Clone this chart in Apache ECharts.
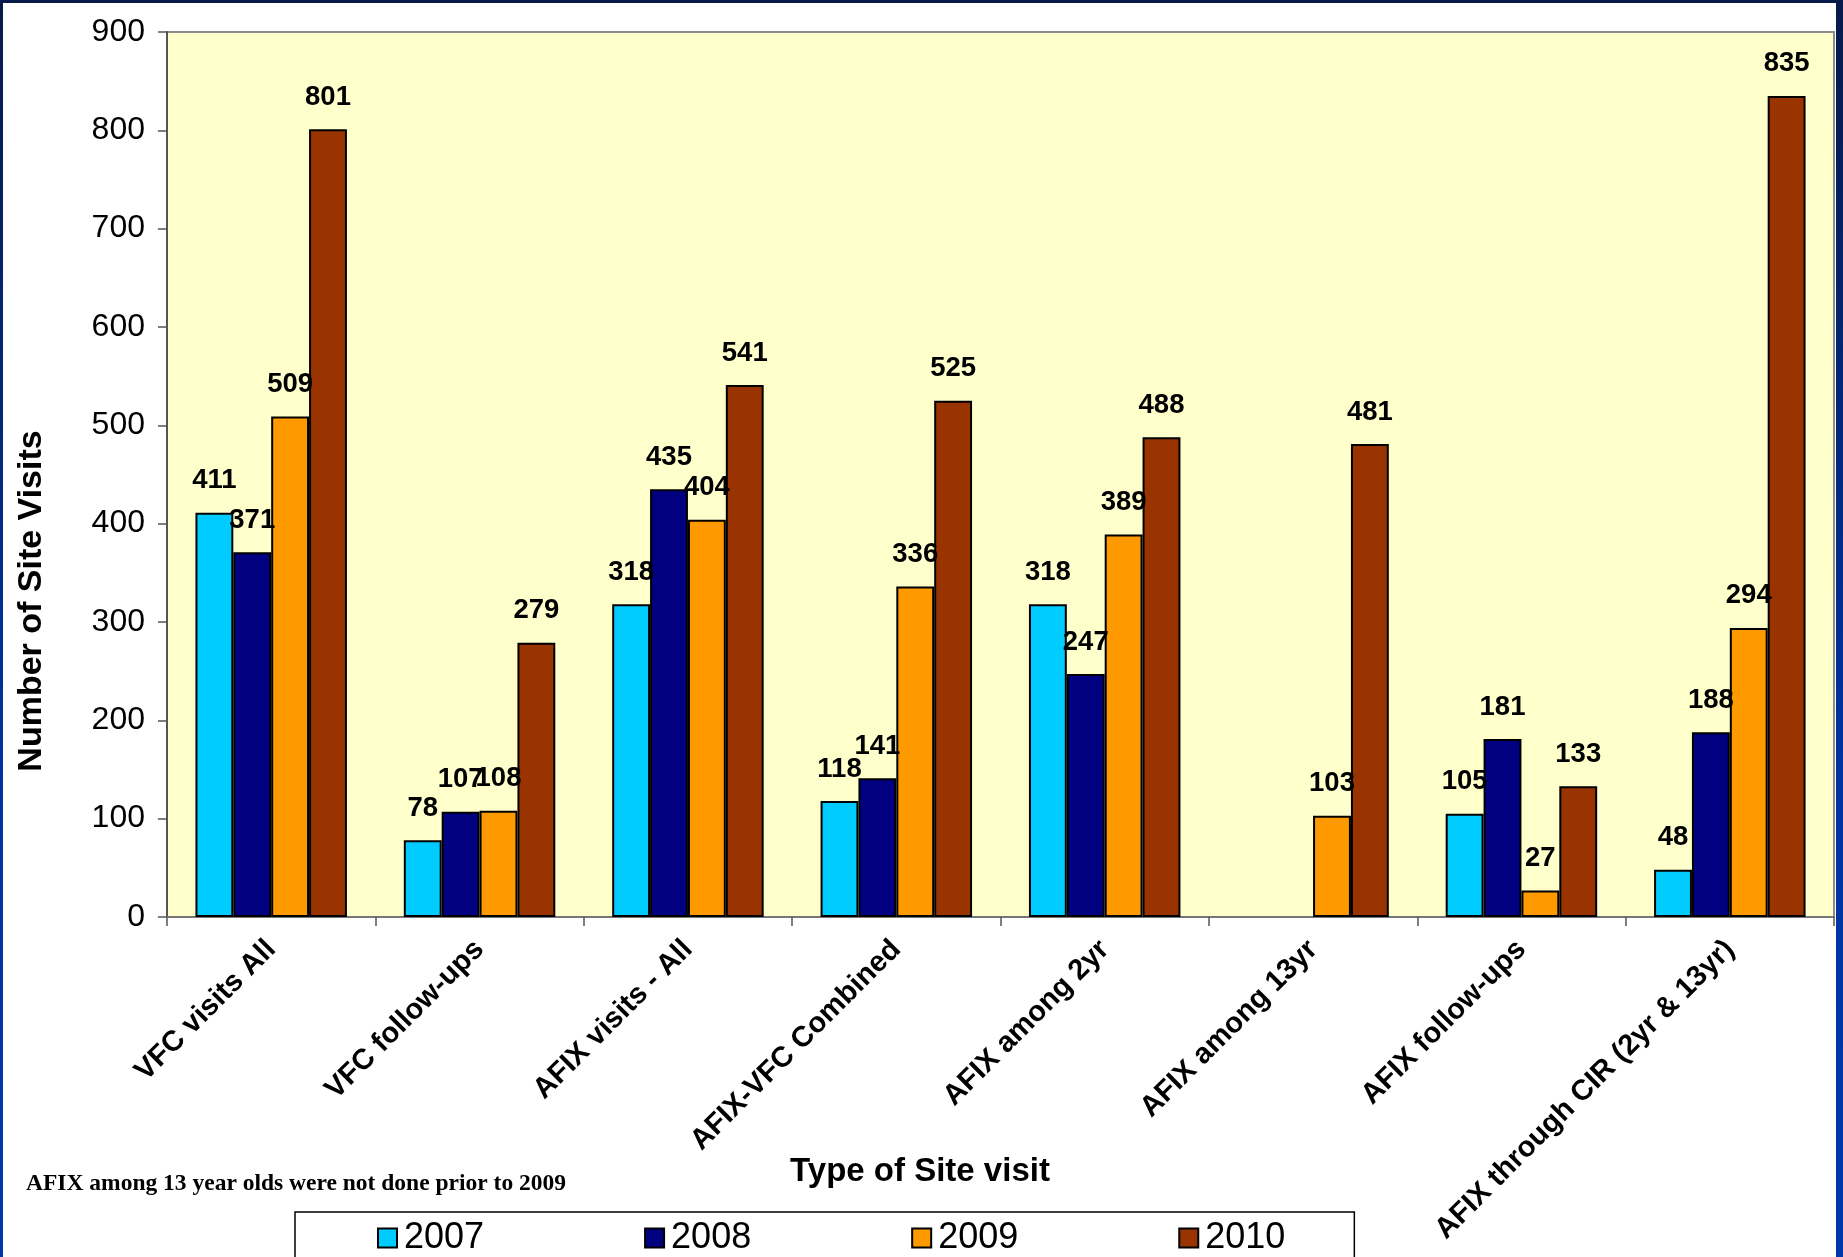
<!DOCTYPE html>
<html>
<head>
<meta charset="utf-8">
<script src="https://cdn.jsdelivr.net/npm/echarts@6/dist/echarts.min.js"></script>
<style>
  html, body { margin: 0; padding: 0; width: 1843px; height: 1257px; overflow: hidden;
    background: linear-gradient(to bottom, #071a4a 0%, #0033a0 60%, #0038aa 100%); }
  #chart { position: absolute; left: 3px; top: 3px; width: 1833px; height: 1254px; background: #ffffff; }
</style>
</head>
<body>
<div id="chart"></div>
<script>
const categories = ['VFC visits All', 'VFC follow-ups', 'AFIX visits - All', 'AFIX-VFC Combined',
  'AFIX among 2yr', 'AFIX among 13yr', 'AFIX follow-ups', 'AFIX through CIR (2yr & 13yr)'];
const years = ['2007', '2008', '2009', '2010'];
const v2007 = [411, 78, 318, 118, 318, null, 105, 48];
const v2008 = [371, 107, 435, 141, 247, null, 181, 188];
const v2009 = [509, 108, 404, 336, 389, 103, 27, 294];
const v2010 = [801, 279, 541, 525, 488, 481, 133, 835];
const yTicks = [0, 100, 200, 300, 400, 500, 600, 700, 800, 900];
const colors = ['#00CCFF', '#000080', '#FF9900', '#993300'];
const seriesValues = [v2007, v2008, v2009, v2010];

const chart = echarts.init(document.getElementById('chart'), null, { renderer: 'canvas' });
const font = 'Liberation Sans, Arial, sans-serif';

chart.setOption({
  animation: false,
  textStyle: { fontFamily: font },
  grid: {
    left: 164, top: 29, width: 1667, height: 885,
    show: true, backgroundColor: '#FFFFCC', borderColor: '#8c8c8c', borderWidth: 2
  },
  legend: {
    data: years,
    left: 292, top: 1209,
    itemWidth: 19, itemHeight: 19, itemGap: 160,
    padding: [8, 69, 40, 82],
    borderColor: '#000', borderWidth: 1.5, backgroundColor: '#fff',
    icon: 'rect',
    textStyle: { fontSize: 36, color: '#000', fontFamily: font, padding: [0, 0, 0, 2] }
  },
  xAxis: {
    type: 'category',
    data: categories,
    axisLine: { lineStyle: { color: '#777', width: 2 } },
    axisTick: { show: true, length: 9, lineStyle: { color: '#555', width: 1.5 } },
    axisLabel: { rotate: 45, margin: 28, fontSize: 29, fontWeight: 'bold', color: '#000', fontFamily: font, interval: 0 }
  },
  yAxis: {
    type: 'value',
    min: 0, max: 900, interval: 100,
    axisLine: { show: true, lineStyle: { color: '#555', width: 2 } },
    axisTick: { show: true, length: 9, lineStyle: { color: '#555', width: 1.5 } },
    splitLine: { show: false },
    axisLabel: { fontSize: 32, color: '#000', margin: 22, fontFamily: font,
      formatter: function (v) { return yTicks.indexOf(v) >= 0 ? String(v) : ''; } }
  },
  series: years.map(function (y, i) {
    return {
      name: y,
      type: 'bar',
      data: seriesValues[i],
      barGap: '0%',
      barCategoryGap: '27.3%',
      itemStyle: { color: colors[i], borderColor: '#000', borderWidth: 2 },
      label: { show: true, position: 'top', distance: 18, fontSize: 27.5, fontWeight: 'bold', color: '#000', fontFamily: font }
    };
  }),
  graphic: [
    {
      type: 'text', x: 29, y: 598, rotation: Math.PI / 2,
      style: { text: 'Number of Site Visits', font: 'bold 34px ' + font, fill: '#000', align: 'center', verticalAlign: 'middle' }
    },
    {
      type: 'text', x: 917, y: 1169,
      style: { text: 'Type of Site visit', font: 'bold 33px ' + font, fill: '#000', align: 'center', verticalAlign: 'middle' }
    },
    {
      type: 'text', x: 23, y: 1181,
      style: { text: 'AFIX among 13 year olds were not done prior to 2009', font: 'bold 23.5px "Liberation Serif", "Times New Roman", serif', fill: '#000', align: 'left', verticalAlign: 'middle' }
    }
  ]
});
</script>
</body>
</html>
